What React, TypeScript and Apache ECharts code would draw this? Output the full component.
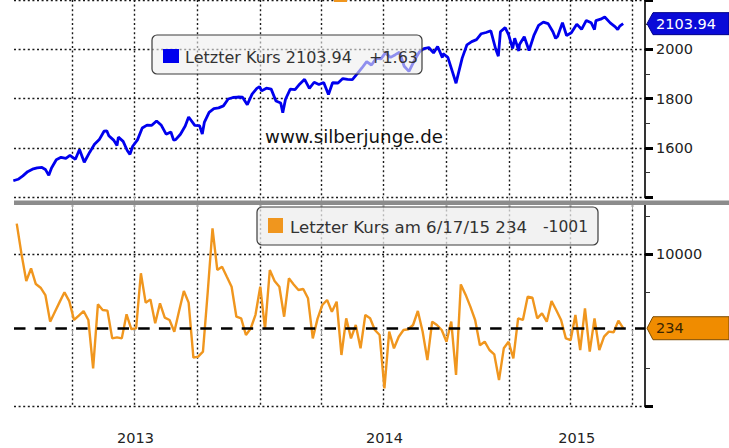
import React, { useEffect, useRef } from "react";
import * as echarts from "echarts";

// ---- S&P 500 closes (top panel) ----
const spx2013: [string, number][] = [
  ["2013-01-04", 1466], ["2013-01-11", 1472], ["2013-01-18", 1486], ["2013-01-25", 1503],
  ["2013-02-01", 1513], ["2013-02-08", 1518], ["2013-02-15", 1520], ["2013-02-20", 1512],
  ["2013-02-25", 1488], ["2013-03-01", 1518], ["2013-03-08", 1551], ["2013-03-15", 1561],
  ["2013-03-22", 1557], ["2013-03-28", 1569], ["2013-04-05", 1553], ["2013-04-11", 1593],
  ["2013-04-18", 1541], ["2013-04-26", 1582], ["2013-05-03", 1614], ["2013-05-10", 1633],
  ["2013-05-17", 1667], ["2013-05-21", 1669], ["2013-05-24", 1649], ["2013-05-31", 1631],
  ["2013-06-05", 1609], ["2013-06-07", 1643], ["2013-06-14", 1626], ["2013-06-20", 1589],
  ["2013-06-24", 1573], ["2013-06-28", 1606], ["2013-07-05", 1632], ["2013-07-12", 1680],
  ["2013-07-19", 1692], ["2013-07-26", 1691], ["2013-08-02", 1709], ["2013-08-09", 1691],
  ["2013-08-16", 1655], ["2013-08-23", 1664], ["2013-08-27", 1631], ["2013-08-30", 1633],
  ["2013-09-06", 1655], ["2013-09-13", 1688], ["2013-09-18", 1725], ["2013-09-27", 1691],
  ["2013-10-04", 1690], ["2013-10-08", 1656], ["2013-10-11", 1703], ["2013-10-18", 1744],
  ["2013-10-25", 1759], ["2013-11-01", 1762], ["2013-11-08", 1770], ["2013-11-15", 1798],
  ["2013-11-22", 1804], ["2013-11-29", 1806], ["2013-12-06", 1805], ["2013-12-13", 1775],
  ["2013-12-20", 1818], ["2013-12-27", 1841], ["2013-12-31", 1848],
];
const spx2014: [string, number][] = [
  ["2014-01-03", 1831], ["2014-01-10", 1842], ["2014-01-17", 1838], ["2014-01-24", 1790],
  ["2014-01-31", 1782], ["2014-02-03", 1742], ["2014-02-07", 1797], ["2014-02-14", 1838],
  ["2014-02-21", 1836], ["2014-02-28", 1859], ["2014-03-07", 1878], ["2014-03-14", 1841],
  ["2014-03-21", 1866], ["2014-03-28", 1857], ["2014-04-04", 1865], ["2014-04-11", 1816],
  ["2014-04-17", 1864], ["2014-04-25", 1863], ["2014-05-02", 1881], ["2014-05-09", 1878],
  ["2014-05-16", 1877], ["2014-05-23", 1900], ["2014-05-30", 1924], ["2014-06-06", 1950],
  ["2014-06-13", 1936], ["2014-06-20", 1963], ["2014-06-27", 1961], ["2014-07-03", 1985],
  ["2014-07-11", 1967], ["2014-07-18", 1978], ["2014-07-24", 1988], ["2014-07-31", 1931],
  ["2014-08-07", 1910], ["2014-08-15", 1955], ["2014-08-22", 1988], ["2014-08-29", 2003],
  ["2014-09-05", 2007], ["2014-09-12", 1985], ["2014-09-18", 2011], ["2014-09-25", 1966],
  ["2014-09-26", 1982], ["2014-10-03", 1967], ["2014-10-10", 1906], ["2014-10-15", 1862],
  ["2014-10-17", 1886], ["2014-10-24", 1964], ["2014-10-31", 2018], ["2014-11-07", 2031],
  ["2014-11-14", 2039], ["2014-11-21", 2063], ["2014-11-28", 2068], ["2014-12-05", 2075],
  ["2014-12-12", 2002], ["2014-12-16", 1972], ["2014-12-19", 2071], ["2014-12-26", 2088],
  ["2014-12-31", 2059],
];
const spx2015: [string, number][] = [
  ["2015-01-06", 2003], ["2015-01-09", 2045], ["2015-01-15", 1993], ["2015-01-16", 2019],
  ["2015-01-23", 2051], ["2015-01-30", 1995], ["2015-02-06", 2055], ["2015-02-13", 2097],
  ["2015-02-20", 2110], ["2015-02-27", 2104], ["2015-03-06", 2071], ["2015-03-10", 2044],
  ["2015-03-13", 2053], ["2015-03-20", 2108], ["2015-03-26", 2056], ["2015-04-02", 2067],
  ["2015-04-10", 2102], ["2015-04-17", 2081], ["2015-04-24", 2117], ["2015-05-01", 2108],
  ["2015-05-06", 2080], ["2015-05-08", 2116], ["2015-05-15", 2122], ["2015-05-21", 2131],
  ["2015-05-29", 2107], ["2015-06-05", 2092], ["2015-06-09", 2080], ["2015-06-12", 2094],
  ["2015-06-17", 2103.94],
];
const spxLast = 2103.94;
const spxChange = "+1.63";

// ---- weekly oscillator (bottom panel), Wednesdays from 2013-01-09 to 2015-06-17 ----
const flowFirstWeek = "2013-01-09";
const flowValues: number[] = [
  14000, 10000, 6450, 8100, 6050, 5570, 4600, 1100, 2400, 3700,
  4960, 3800, 1320, 1900, 2500, 1320, -5040, 3380, 2630, 2550,
  -1100, -960, -1100, 2060, 130, 220, 7460, 3600, 4030, 880,
  3510, 1620, 1320, -220, 2500, 5130, 3600, -3640, -3510, -2850,
  5000, 13380, 7900, 8330, 7000, 5700, 1750, 1530, -660, 200,
  2000, 5700, 130, 7900, 6450, 5700, 1750, 6800, 6000, 5260,
  5400, 4170, -1100, 1500, 3290, 3950, 2400, 3730, -3290, 1540,
  -1100, 660, -2410, 1970, 1540, 0, -660, -7680, -220, -2410,
  -880, 0, 100, 660, 2500, -200, -3950, 1100, 660, 0,
  -1540, 1100, -5920, 6000, 4650, 3070, 1320, -2000, -1540, -2630,
  -3200, -6580, -2410, -1540, -3730, 1540, 1320, 4390, 4250, 1540,
  2190, 1100, 3800, 2600, 1320, -1100, -1320, 1970, -2630, 2850,
  -2850, 1540, -2630, -880, -220, -300, 1235, 234,
];
const flowLast = 234;
const flowChange = "-1001";
const flowDateLabel = "6/17/15";

// ---- axes ----
const xStart = "2013-01-05";
const xEnd = "2015-07-19";
const quarterLines = [
  "2013-04-01", "2013-07-01", "2013-10-01", "2014-01-01", "2014-04-01",
  "2014-07-01", "2014-10-01", "2015-01-01", "2015-04-01", "2015-07-01",
];
const yearLabels: [string, string][] = [
  ["2013-07-02", "2013"], ["2014-07-02", "2014"], ["2015-04-10", "2015"],
];
const topLabels = [1600, 1800, 2000];
const bottomMajor = [-10000, 10000];
const bottomMinor = [-5000, 5000, 15000];
const bottomLabels = [10000];
const watermark = "www.silberjunge.de";

const DAY = 86400000;
const ts = (s: string) => {
  const [y, m, d] = s.split("-").map(Number);
  return Date.UTC(y, m - 1, d);
};

const FONT = "DejaVu Sans";
const BLUE = "#0000ee";
const ORANGE = "#f0961e";

export default function App() {
  const ref = useRef<HTMLDivElement>(null);

  useEffect(() => {
    if (!ref.current) return;
    const chart = echarts.init(ref.current, undefined, { renderer: "svg" });

    const spxData = [...spx2013, ...spx2014, ...spx2015].map(([d, v]) => [ts(d), v]);
    const flowStart = ts(flowFirstWeek);
    const flowData = flowValues.map((v, i) => [flowStart + i * 7 * DAY, v]);
    const quarterTs = quarterLines.map(ts);
    const yearTs = yearLabels.map(([d]) => ts(d));

    const dotted = { color: "#1a1a1a", width: 1.4, type: [2, 2.6] as any };
    const labelStyle = { color: "#222", fontSize: 14.5, fontFamily: FONT };

    chart.setOption({
      animation: false,
      backgroundColor: "#ffffff",
      grid: [
        { left: 14, right: 84, top: 0, height: 197 },
        { left: 14, right: 84, top: 205, height: 201 },
      ],
      xAxis: [
        {
          type: "value", gridIndex: 0, min: ts(xStart), max: ts(xEnd),
          axisLine: { show: false },
          axisTick: { show: true, customValues: quarterTs, length: 12, lineStyle: { color: "#aaa" } },
          axisLabel: { show: false },
          splitLine: { show: true, lineStyle: dotted },
        },
        {
          type: "value", gridIndex: 1, min: ts(xStart), max: ts(xEnd),
          axisLine: { show: false },
          axisTick: { show: true, customValues: quarterTs, length: 5, lineStyle: { color: "#999" } },
          axisLabel: {
            show: true, customValues: yearTs, margin: 24, ...labelStyle,
            formatter: (v: number) => {
              const i = yearTs.indexOf(v);
              return i >= 0 ? yearLabels[i][1] : "";
            },
          },
          splitLine: { show: true, lineStyle: dotted },
        },
      ],
      yAxis: [
        {
          type: "value", gridIndex: 0, position: "right", min: 1400, max: 2200, interval: 200,
          axisLine: { show: true, lineStyle: { color: "#000", width: 1.6 } },
          axisTick: { show: true, length: 8, lineStyle: { color: "#000", width: 3 } },
          minorTick: { show: true, splitNumber: 2, length: 5, lineStyle: { color: "#333", width: 1 } },
          axisLabel: {
            margin: 11, ...labelStyle,
            formatter: (v: number) => (topLabels.includes(v) ? String(v) : ""),
          },
          splitLine: { show: true, lineStyle: dotted },
        },
        {
          type: "value", gridIndex: 1, position: "right", min: -10000, max: 16450,
          axisLine: { show: true, lineStyle: { color: "#000", width: 1.6 } },
          axisTick: { show: true, customValues: bottomMajor, length: 8, lineStyle: { color: "#000", width: 3 } },
          axisLabel: {
            margin: 11, customValues: bottomLabels, ...labelStyle,
            formatter: (v: number) => String(v),
          },
          splitLine: { show: true, lineStyle: dotted },
        },
        {
          type: "value", gridIndex: 1, position: "right", min: -10000, max: 16450,
          axisLine: { show: false },
          axisTick: { show: true, customValues: bottomMinor, length: 5, lineStyle: { color: "#333", width: 1 } },
          axisLabel: { show: false },
          splitLine: { show: false },
        },
      ],
      series: [
        {
          type: "line", xAxisIndex: 0, yAxisIndex: 0, data: spxData,
          showSymbol: false, lineStyle: { color: BLUE, width: 2.8 }, z: 3,
        },
        {
          type: "line", xAxisIndex: 1, yAxisIndex: 1, data: flowData,
          showSymbol: false, lineStyle: { color: ORANGE, width: 2.4 }, z: 3,
          markLine: {
            silent: true, symbol: "none", label: { show: false },
            lineStyle: { color: "#000", width: 2.7, type: [11.5, 9.2] },
            data: [{ yAxis: flowLast }],
          },
        },
      ],
    });

    const yBlue = chart.convertToPixel({ yAxisIndex: 0 }, spxLast) as number;
    const yOrange = chart.convertToPixel({ yAxisIndex: 1 }, flowLast) as number;
    const tag = (yc: number, h: number) => [
      [647, yc], [653, yc - h / 2], [729, yc - h / 2], [729, yc + h / 2], [653, yc + h / 2],
    ];

    chart.setOption({
      graphic: [
        { type: "rect", z: 50, shape: { x: 14, y: 200.5, width: 715, height: 4.5 }, style: { fill: "#8c8c8c" } },
        { type: "rect", z: 50, shape: { x: 334, y: 0, width: 13, height: 2 }, style: { fill: ORANGE } },
        // top legend
        { type: "rect", z: 60, shape: { x: 152, y: 35, width: 270, height: 39, r: 5 },
          style: { fill: "rgba(238,238,238,0.6)", stroke: "#3c3c3c", lineWidth: 1.2 } },
        { type: "rect", z: 61, shape: { x: 163, y: 49, width: 16, height: 14 }, style: { fill: BLUE } },
        { type: "text", z: 61, x: 185, y: 57,
          style: { text: `Letzter Kurs ${spxLast.toFixed(2)}`, fill: "#333", font: `16px "${FONT}"`, verticalAlign: "middle" } },
        { type: "text", z: 61, x: 369, y: 57,
          style: { text: spxChange, fill: "#333", font: `16px "${FONT}"`, verticalAlign: "middle" } },
        // watermark
        { type: "text", z: 61, x: 265, y: 136,
          style: { text: watermark, fill: "#111", font: `18.2px "${FONT}"`, verticalAlign: "middle" } },
        // bottom legend
        { type: "rect", z: 60, shape: { x: 257, y: 207, width: 341, height: 38, r: 5 },
          style: { fill: "rgba(238,238,238,0.75)", stroke: "#3c3c3c", lineWidth: 1.2 } },
        { type: "rect", z: 61, shape: { x: 268, y: 218, width: 15, height: 15 }, style: { fill: ORANGE } },
        { type: "text", z: 61, x: 290, y: 227,
          style: { text: `Letzter Kurs am ${flowDateLabel} ${flowLast}`, fill: "#333", font: `16.6px "${FONT}"`, verticalAlign: "middle" } },
        { type: "text", z: 61, x: 543, y: 227,
          style: { text: flowChange, fill: "#333", font: `15.5px "${FONT}"`, verticalAlign: "middle" } },
        // value tags
        { type: "polygon", z: 70, shape: { points: tag(yBlue, 22) }, style: { fill: "#0a0ad8", stroke: "#00008a", lineWidth: 1 } },
        { type: "text", z: 71, x: 656, y: yBlue,
          style: { text: spxLast.toFixed(2), fill: "#fff", font: `14.5px "${FONT}"`, verticalAlign: "middle" } },
        { type: "polygon", z: 70, shape: { points: tag(yOrange, 23) }, style: { fill: "#f08c00", stroke: "#7a4a00", lineWidth: 1 } },
        { type: "text", z: 71, x: 656, y: yOrange,
          style: { text: String(flowLast), fill: "#3a2500", font: `14.5px "${FONT}"`, verticalAlign: "middle" } },
      ],
    });

    return () => chart.dispose();
  }, []);

  return (
    <div
      ref={ref}
      style={{ position: "fixed", left: 0, top: 0, width: 729, height: 448, background: "#fff" }}
    />
  );
}
